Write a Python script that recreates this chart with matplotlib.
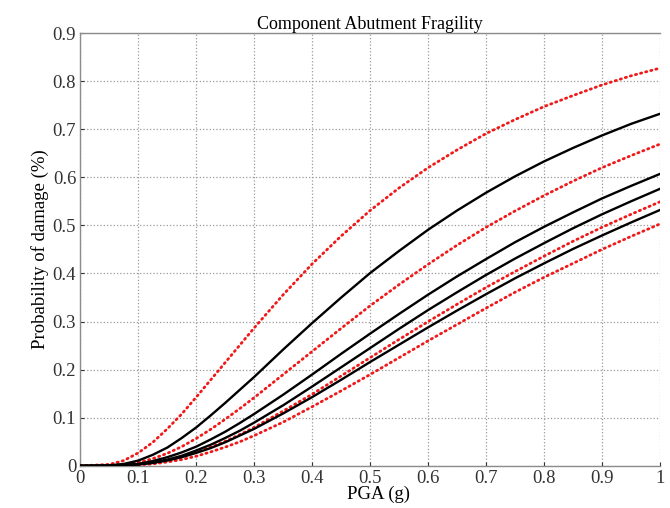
import matplotlib
matplotlib.use("Agg")
import matplotlib.pyplot as plt

# PGA values (g)
pga = [0.0, 0.05, 0.075, 0.10, 0.125, 0.15, 0.175, 0.20, 0.225, 0.25, 0.275, 0.30,
       0.35, 0.40, 0.45, 0.50, 0.55, 0.60, 0.65, 0.70, 0.75, 0.80, 0.85, 0.90, 0.95, 1.00]

# solid black fragility curves
black_1 = [0, 0.001, 0.004, 0.011, 0.023, 0.038, 0.058, 0.080, 0.105, 0.131, 0.158, 0.185,
           0.242, 0.297, 0.350, 0.401, 0.447, 0.491, 0.531, 0.568, 0.602, 0.633, 0.661, 0.687, 0.711, 0.732]
black_2 = [0, 0.000, 0.002, 0.004, 0.010, 0.018, 0.028, 0.040, 0.055, 0.071, 0.089, 0.108,
           0.148, 0.190, 0.233, 0.275, 0.316, 0.356, 0.394, 0.430, 0.465, 0.497, 0.527, 0.556, 0.582, 0.607]
black_3 = [0, 0.000, 0.001, 0.003, 0.007, 0.013, 0.021, 0.032, 0.044, 0.058, 0.073, 0.090,
           0.126, 0.165, 0.205, 0.245, 0.285, 0.324, 0.361, 0.397, 0.431, 0.463, 0.494, 0.523, 0.550, 0.576]
black_4 = [0, 0.000, 0.001, 0.003, 0.006, 0.011, 0.018, 0.027, 0.037, 0.049, 0.063, 0.077,
           0.109, 0.143, 0.179, 0.216, 0.252, 0.288, 0.323, 0.357, 0.390, 0.421, 0.451, 0.479, 0.506, 0.532]

# dotted red curves
red_1 = [0, 0.003, 0.011, 0.027, 0.049, 0.077, 0.108, 0.143, 0.179, 0.215, 0.251, 0.287,
         0.356, 0.420, 0.478, 0.531, 0.578, 0.620, 0.657, 0.691, 0.720, 0.747, 0.770, 0.792, 0.811, 0.827]
red_2 = [0, 0.001, 0.003, 0.007, 0.015, 0.026, 0.040, 0.057, 0.076, 0.097, 0.119, 0.142,
         0.190, 0.238, 0.286, 0.333, 0.377, 0.419, 0.459, 0.496, 0.530, 0.562, 0.592, 0.620, 0.645, 0.669]
red_3 = [0, 0.000, 0.001, 0.003, 0.006, 0.011, 0.019, 0.028, 0.039, 0.051, 0.065, 0.080,
         0.114, 0.149, 0.187, 0.225, 0.263, 0.300, 0.336, 0.371, 0.404, 0.436, 0.467, 0.496, 0.523, 0.549]
red_4 = [0, 0.000, 0.001, 0.002, 0.004, 0.008, 0.013, 0.020, 0.029, 0.039, 0.050, 0.063,
         0.091, 0.123, 0.156, 0.190, 0.225, 0.260, 0.294, 0.328, 0.361, 0.392, 0.421, 0.450, 0.477, 0.503]

xticks = [0, 0.1, 0.2, 0.3, 0.4, 0.5, 0.6, 0.7, 0.8, 0.9, 1]
xtick_labels = ["0", "0.1", "0.2", "0.3", "0.4", "0.5", "0.6", "0.7", "0.8", "0.9", "1"]
yticks = [0, 0.1, 0.2, 0.3, 0.4, 0.5, 0.6, 0.7, 0.8, 0.9]
ytick_labels = ["0", "0.1", "0.2", "0.3", "0.4", "0.5", "0.6", "0.7", "0.8", "0.9"]

plt.rcParams['font.family'] = ['Liberation Serif', 'DejaVu Serif']

fig = plt.figure(figsize=(6.7, 5.08), dpi=100)
ax = fig.add_axes([0.120, 0.083, 0.865, 0.852])

for curve in [red_1, red_2, red_3, red_4]:
    ax.plot(pga, curve, color='#f01818', lw=2.0, linestyle=(0, (0.45, 1.45)),
            dash_capstyle='round', zorder=3)
for curve in [black_1, black_2, black_3, black_4]:
    ax.plot(pga, curve, color='black', lw=1.7, zorder=4)

ax.set_xlim(0, 1)
ax.set_ylim(0, 0.9)
ax.set_xticks(xticks)
ax.set_xticklabels(xtick_labels)
ax.set_yticks(yticks)
ax.set_yticklabels(ytick_labels)
ax.tick_params(direction='in', length=3, labelsize=13.5, colors='#333333', pad=3)
ax.grid(True, linestyle=':', color='#9a9a9a', lw=0.9)

for side in ['left', 'bottom', 'top']:
    ax.spines[side].set_color('#8c8c8c')
    ax.spines[side].set_linewidth(1.0)
ax.spines['right'].set_visible(False)

ax.set_title('Component Abutment Fragility', fontsize=13, pad=3)
ax.set_xlabel('PGA (g)', fontsize=13.5, labelpad=0)
ax.xaxis.set_label_coords(0.515, -0.045)
ax.set_ylabel('Probability of damage (%)', fontsize=13.5, labelpad=3)

fig.savefig('out.png', dpi=100)
